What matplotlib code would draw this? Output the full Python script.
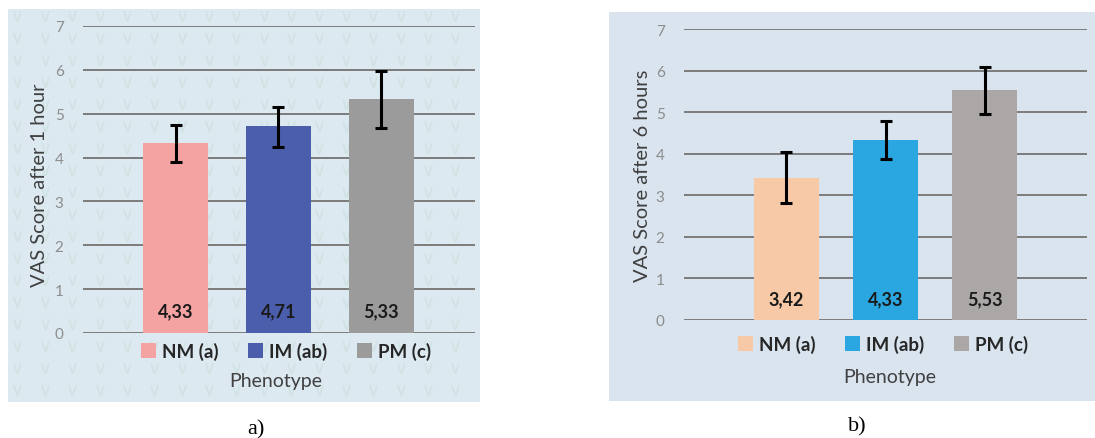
import matplotlib
matplotlib.use("Agg")
import numpy as np
import matplotlib.pyplot as plt
from matplotlib.patches import Patch

plt.rcParams['font.family'] = ['Lato', 'DejaVu Sans']

# ─── Data ─────────────────────────────────────────────────────────────────────
phenotypes = ["NM (a)", "IM (ab)", "PM (c)"]
labels_1h = ["4,33", "4,71", "5,33"]
labels_6h = ["3,42", "4,33", "5,53"]
vas_1h = [4.33, 4.71, 5.33]
err_lo_1h = [3.90, 4.24, 4.68]
err_hi_1h = [4.75, 5.16, 5.97]
vas_6h = [3.42, 4.33, 5.53]
err_lo_6h = [2.81, 3.87, 4.95]
err_hi_6h = [4.05, 4.78, 6.08]

colors_1h = ["#f4a3a2", "#4a5eac", "#9b9b9b"]
colors_6h = ["#f8c9a7", "#2aa7e0", "#aca7a7"]

W, H = 1095, 439
fig = plt.figure(figsize=(W / 100, H / 100), dpi=100)


def px(x0, y0, x1, y1):
    # pixel box (top-left origin) -> figure fraction [l, b, w, h]
    return [x0 / W, 1 - y1 / H, (x1 - x0) / W, (y1 - y0) / H]


def background(box, bg, watermark=False):
    bx = fig.add_axes(box, zorder=-5)
    bx.set_facecolor(bg)
    bx.set_xticks([]); bx.set_yticks([])
    for s in bx.spines.values():
        s.set_visible(False)
    if watermark:
        # faint tiled logo pattern of the source image
        gx, gy = np.meshgrid(np.arange(0.02, 1.0, 0.058), np.arange(0.03, 1.0, 0.056))
        bx.scatter(gx.ravel(), gy.ravel(), marker=r"$\vee$", s=60,
                   color="#d0e3e3", linewidths=0, zorder=1)
        bx.set_xlim(0, 1); bx.set_ylim(0, 1)


def panel(ax_box, xlim, width, vals, lo, hi, txt, colors,
          ylabel, ylab_xy, leg_xy, phen_xy, cap_xy, cap):
    ax = fig.add_axes(ax_box)
    ax.set_facecolor("none")
    x = range(len(vals))
    yerr = [[v - l for v, l in zip(vals, lo)], [h - v for v, h in zip(vals, hi)]]
    ax.bar(x, vals, width=width, color=colors, zorder=2)
    ax.errorbar(x, vals, yerr=yerr, fmt="none", ecolor="black", elinewidth=2.2,
                capsize=4, capthick=2.2, zorder=3)
    for xi, t in zip(x, txt):
        ax.text(xi, 0.5, t, ha="center", va="center", fontsize=13,
                fontweight="bold", color="#1a1a1a", zorder=4)
    ax.set_ylim(0, 7)
    ax.set_xlim(*xlim)
    ax.set_yticks(range(8))
    ax.yaxis.grid(True, color="#7c7c7c", linewidth=1.4, zorder=1)
    ax.set_axisbelow(True)
    ax.tick_params(axis="y", length=0, pad=14, labelsize=11, labelcolor="#8c8c8c")
    ax.set_xticks([])
    for s in ax.spines.values():
        s.set_visible(False)
    handles = [Patch(facecolor=c, edgecolor="none", label=p) for c, p in zip(colors, phenotypes)]
    leg = ax.legend(handles=handles, loc="center", bbox_to_anchor=leg_xy, ncol=3,
                    frameon=False, handlelength=0.8, handleheight=0.8,
                    handletextpad=0.3, columnspacing=1.6,
                    prop={"size": 13.5, "weight": "bold"})
    for t in leg.get_texts():
        t.set_color("#262626")
    fig.text(ylab_xy[0] / W, 1 - ylab_xy[1] / H, ylabel, rotation=90, ha="center",
             va="center", fontsize=14.5, color="#404040")
    fig.text(phen_xy[0] / W, 1 - phen_xy[1] / H, "Phenotype", ha="center",
             va="center", fontsize=14, color="#404040")
    fig.text(cap_xy[0] / W, 1 - cap_xy[1] / H, cap, ha="center", va="center",
             fontsize=16, color="black", family="Liberation Serif")
    return ax


background(px(8, 10, 480, 403), "#dde9f1", watermark=True)
background(px(609, 13, 1095, 402), "#d9e4ef")

panel(px(83, 27, 475, 334), (-0.9, 2.91), 0.63,
      vas_1h, err_lo_1h, err_hi_1h, labels_1h, colors_1h,
      "VAS Score after 1 hour", (40, 185), (0.518, -0.059), (276, 382), (256, 430), "a)")
panel(px(684, 30, 1087, 321), (-1.03, 3.03), 0.655,
      vas_6h, err_lo_6h, err_hi_6h, labels_6h, colors_6h,
      "VAS Score after 6 hours", (642, 176), (0.494, -0.082), (890, 378), (857, 427), "b)")

plt.savefig("out.png", dpi=100)
